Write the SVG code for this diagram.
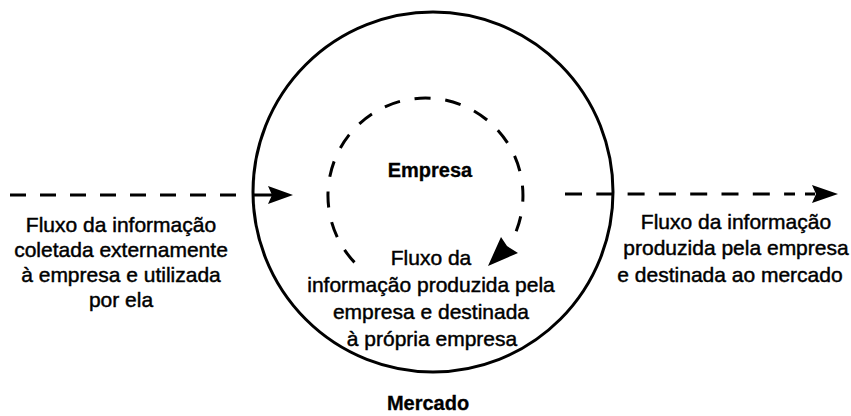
<svg xmlns="http://www.w3.org/2000/svg" width="851" height="416" viewBox="0 0 851 416">
<style>
.t{font-family:"Liberation Sans",Arial,sans-serif;font-size:21px;fill:#000;stroke:#000;stroke-width:0.45;text-anchor:middle}
.b{font-family:"Liberation Sans",Arial,sans-serif;font-size:20px;font-weight:bold;fill:#000;stroke:#000;stroke-width:0.3;text-anchor:middle}
.dash{fill:none;stroke:#000;stroke-width:3}
.solid{fill:none;stroke:#000;stroke-width:3}
.head{fill:#000;stroke:none}
</style>
<rect width="851" height="416" fill="#fff"/>
<g id="mercado">
<circle cx="433" cy="192" r="180" fill="none" stroke="#000" stroke-width="3"/>
<text class="b" x="428" y="410">Mercado</text>
</g>
<g id="empresa">
<text class="b" x="430" y="177">Empresa</text>
</g>
<g id="connectors">
<line class="dash" x1="10" y1="195" x2="246" y2="195" stroke-dasharray="16 14"/>
<line class="solid" x1="252" y1="195" x2="272" y2="195"/>
<polygon class="head" points="268,186 293,195 268,204 272,195"/>
<line class="dash" x1="565" y1="194" x2="795" y2="194" stroke-dasharray="17 14.3"/>
<line class="solid" x1="805" y1="194" x2="815" y2="194"/>
<polygon class="head" points="812,185 838,194 812,203 816,194"/>
<path class="dash" d="M354.5,262.4 A97.5,97.5 0 1 1 516.2,231.2" stroke-dasharray="16 14.8"/>
<polygon class="head" points="488,266 501,237 507,246 518,253"/>
</g>
<g id="label-externo">
<text class="t" x="121" y="232">Fluxo da informação</text>
<text class="t" x="121" y="257">coletada externamente</text>
<text class="t" x="121" y="282">à empresa e utilizada</text>
<text class="t" x="121" y="307">por ela</text>
</g>
<g id="label-interno">
<text class="t" x="431" y="265">Fluxo da</text>
<text class="t" x="431" y="292">informação produzida pela</text>
<text class="t" x="431" y="319">empresa e destinada</text>
<text class="t" x="432" y="346">à própria empresa</text>
</g>
<g id="label-mercado">
<text class="t" x="736" y="229">Fluxo da informação</text>
<text class="t" x="736" y="255">produzida pela empresa</text>
<text class="t" x="730" y="282">e destinada ao mercado</text>
</g>
</svg>
